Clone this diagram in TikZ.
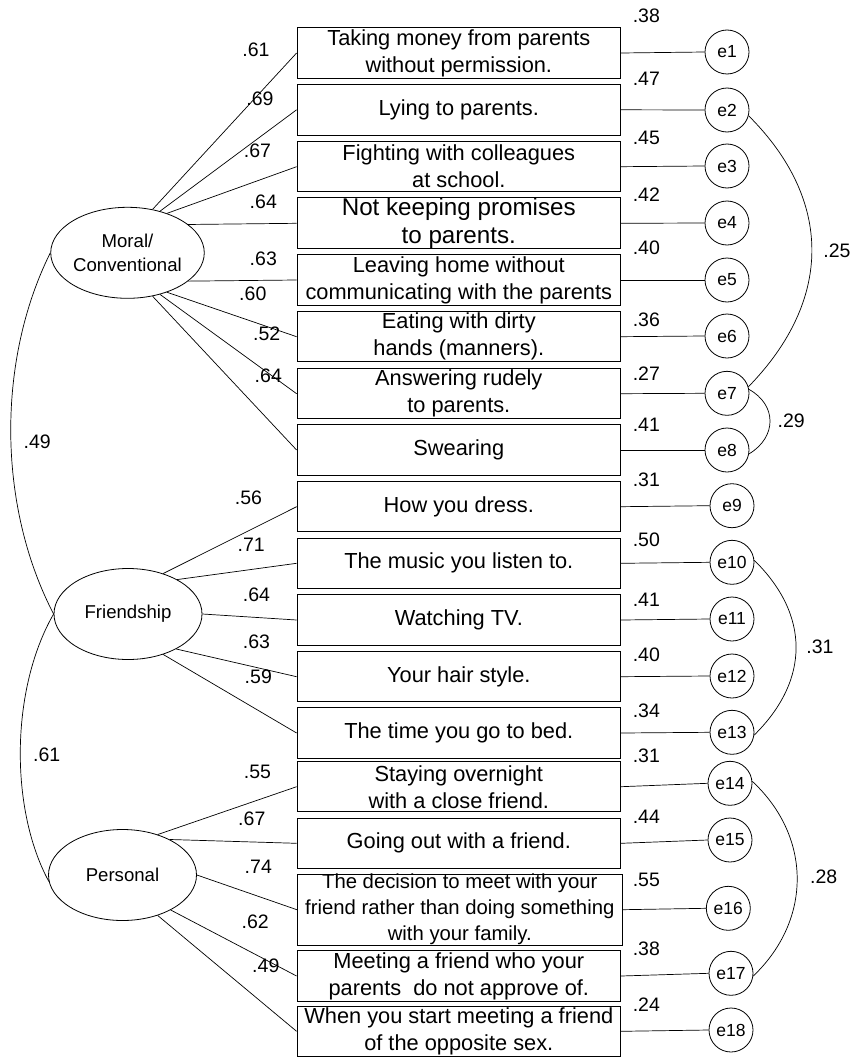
\documentclass[tikz,border=0pt]{standalone}
\usepackage{fontspec}
\setmainfont{Liberation Sans}
\usetikzlibrary{shapes.geometric}
\begin{document}
\begin{tikzpicture}[x=1pt,y=-1pt,
  item/.style={draw, line width=0.9pt, inner sep=0pt, minimum width=323.5pt, minimum height=50.3pt, align=center, font=\fontsize{21.8}{27}\selectfont},
  lat/.style={draw, ellipse, line width=0.8pt, inner sep=0pt, minimum width=148pt, minimum height=91pt, align=center, font=\fontsize{18.6}{23.3}\selectfont},
  err/.style={draw, circle, line width=0.8pt, inner sep=0pt, minimum size=44pt, font=\fontsize{17.5}{20}\selectfont},
  num/.style={inner sep=0pt, font=\fontsize{19.5}{22}\selectfont},
  ln/.style={line width=0.7pt}]
\useasboundingbox (0,0) rectangle (857,1057);

% observed items
\node[item] (b1) at (458.8,53) {Taking money from parents\\without permission.};
\node[item] (b2) at (458.8,109.8) {Lying to parents.};
\node[item] (b3) at (458.8,166.7) {Fighting with colleagues\\at school.};
\node[item, font=\fontsize{24.2}{28.3}\selectfont] (b4) at (458.8,223.3) {Not keeping promises\\to parents.};
\node[item] (b5) at (458.8,280) {Leaving home without\\communicating with the parents};
\node[item] (b6) at (458.8,336.7) {Eating with dirty\\hands (manners).};
\node[item] (b7) at (458.8,393.7) {Answering rudely\\to parents.};
\node[item] (b8) at (458.8,450) {Swearing};
\node[item] (b9) at (458.8,506.7) {How you dress.};
\node[item] (b10) at (458.8,563.3) {The music you listen to.};
\node[item] (b11) at (458.8,620) {Watching TV.};
\node[item] (b12) at (458.8,676.7) {Your hair style.};
\node[item] (b13) at (458.8,733) {The time you go to bed.};
\node[item] (b14) at (458.8,786.7) {Staying overnight\\with a close friend.};
\node[item] (b15) at (458.8,843.3) {Going out with a friend.};
\node[item, minimum width=325pt, minimum height=70.7pt, font=\fontsize{20.3}{26}\selectfont] (b16) at (459.8,909.7) {The decision to meet with your\\friend rather than doing something\\with your family.};
\node[item] (b17) at (458.8,976) {Meeting a friend who your\\parents\ \ do not approve of.};
\node[item] (b18) at (458.8,1031.3) {When you start meeting a friend\\of the opposite sex.};

% error terms
\node[err] (e1) at (727,52) {e1};
\node[err] (e2) at (727,110) {e2};
\node[err] (e3) at (727,166) {e3};
\node[err] (e4) at (727,223) {e4};
\node[err] (e5) at (727,280) {e5};
\node[err] (e6) at (727,336) {e6};
\node[err] (e7) at (727,393.3) {e7};
\node[err] (e8) at (727,450) {e8};
\node[err] (e9) at (732,505.7) {e9};
\node[err] (e10) at (732,562.3) {e10};
\node[err] (e11) at (732,619) {e11};
\node[err] (e12) at (732,676) {e12};
\node[err] (e13) at (732,732.3) {e13};
\node[err] (e14) at (730,783.3) {e14};
\node[err] (e15) at (730,840) {e15};
\node[err] (e16) at (728.3,908.3) {e16};
\node[err] (e17) at (731,973.3) {e17};
\node[err] (e18) at (731,1030) {e18};

% latent factors
\node[lat] (M) at (127.5,252.8) {Moral/\\Conventional};
\node[lat] (F) at (128,614) {Friendship};
\node[lat] (P) at (122.5,875) {Personal};

% loadings
\foreach \a/\b in {60/b1,52/b2,45/b3,25/b4,-25/b5,-45/b6,-52/b7,-60/b8}
  \draw[ln] (M.\a) -- (\b.west);
\foreach \a/\b in {49/b9,35/b10,0/b11,-36/b12,-49/b13}
  \draw[ln] (F.\a) -- (\b.west);
\foreach \a/\b in {49/b14,37/b15,0/b16,-36/b17,-49/b18}
  \draw[ln] (P.\a) -- (\b.west);

% error paths
\foreach \i in {1,...,18}
  \draw[ln] (b\i.east) -- (e\i.west);

% error covariances
\draw[ln] (e2.-15) .. controls (833,200) and (833,300) .. (e7.17);
\draw[ln] (e7.10) .. controls (777,405) and (777,437) .. (e8.-10);
\draw[ln] (e10.5) .. controls (810,615) and (810,680) .. (e13.-7);
\draw[ln] (e14.5) .. controls (812,837) and (812,920) .. (e17.-7);

% factor correlations
\draw[ln] (M.west) .. controls (-3,360) and (-3,505) .. (F.west);
\draw[ln] (F.west) .. controls (10,690) and (10,810) .. (P.185);

% loading labels
\node[num] (lm1) at (256,50) {.61};
\node[num] (lm2) at (260,99) {.69};
\node[num] (lm3) at (257.5,150.7) {.67};
\node[num] (lm4) at (263.3,201.7) {.64};
\node[num] (lm5) at (263.3,259) {.63};
\node[num] (lm6) at (252.8,293.3) {.60};
\node[num] (lm7) at (266.7,334) {.52};
\node[num] (lm8) at (268.3,375.7) {.64};
\node[num] (lf1) at (248.5,497.7) {.56};
\node[num] (lf2) at (251.2,544.3) {.71};
\node[num] (lf3) at (256.5,594.3) {.64};
\node[num] (lf4) at (256.5,641.7) {.63};
\node[num] (lf5) at (258.3,676.7) {.59};
\node[num] (lp1) at (257.5,771.7) {.55};
\node[num] (lp2) at (251.8,819) {.67};
\node[num] (lp3) at (258.3,866.7) {.74};
\node[num] (lp4) at (255.2,921.7) {.62};
\node[num] (lp5) at (265.8,966) {.49};

% squared multiple correlations
\node[num] (r1) at (646.3,15.7) {.38};
\node[num] (r2) at (646.3,78.3) {.47};
\node[num] (r3) at (646.3,137.7) {.45};
\node[num] (r4) at (646.3,195) {.42};
\node[num] (r5) at (646.3,247.3) {.40};
\node[num] (r6) at (646.3,320) {.36};
\node[num] (r7) at (646.3,373.3) {.27};
\node[num] (r8) at (646.3,425) {.41};
\node[num] (r9) at (646.3,480) {.31};
\node[num] (r10) at (646.3,540) {.50};
\node[num] (r11) at (646.3,600) {.41};
\node[num] (r12) at (646.3,655) {.40};
\node[num] (r13) at (646.3,710.7) {.34};
\node[num] (r14) at (646.3,756) {.31};
\node[num] (r15) at (646.3,816.7) {.44};
\node[num] (r16) at (646.3,880) {.55};
\node[num] (r17) at (646.3,948.3) {.38};
\node[num] (r18) at (646.3,1005) {.24};

% covariance / correlation labels
\node[num] (c1) at (837,250.7) {.25};
\node[num] (c2) at (791.2,421) {.29};
\node[num] (c3) at (820,646.7) {.31};
\node[num] (c4) at (823.7,876.7) {.28};
\node[num] (c5) at (37.2,441.7) {.49};
\node[num] (c6) at (46.7,754.3) {.61};
\end{tikzpicture}
\end{document}
